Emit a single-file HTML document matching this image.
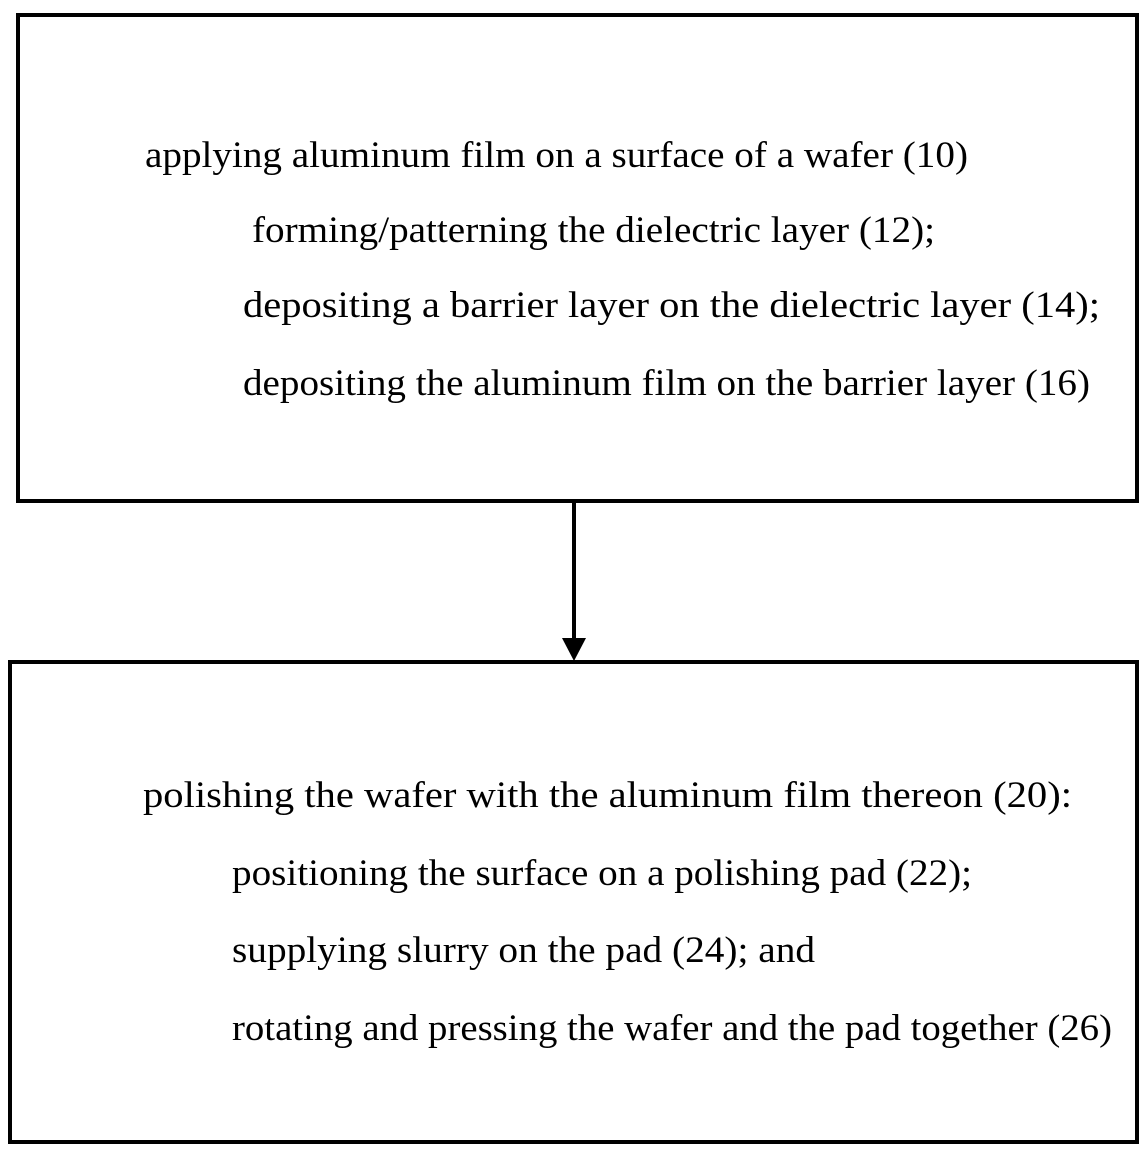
<!DOCTYPE html>
<html><head><style>html,body{margin:0;padding:0;background:#fff;}svg{display:block}</style></head>
<body>
<svg width="1140" height="1150" viewBox="0 0 1140 1150" xmlns="http://www.w3.org/2000/svg">
<rect x="0" y="0" width="1140" height="1150" fill="#fff"/>
<g fill="none" stroke="#000" stroke-width="4">
<rect x="18" y="15" width="1119" height="486"/>
<rect x="10" y="662" width="1127" height="480"/>
<line x1="574" y1="501" x2="574" y2="642"/>
</g>
<polygon points="562,638 586,638 574,661" fill="#000"/>
<g font-family="Liberation Serif, serif" font-size="37" fill="#000">
<text x="145" y="167" textLength="823" lengthAdjust="spacingAndGlyphs">applying aluminum film on a surface of a wafer (10)</text>
<text x="252" y="242" textLength="683" lengthAdjust="spacingAndGlyphs">forming/patterning the dielectric layer (12);</text>
<text x="243" y="317" textLength="857" lengthAdjust="spacingAndGlyphs">depositing a barrier layer on the dielectric layer (14);</text>
<text x="243" y="395" textLength="847" lengthAdjust="spacingAndGlyphs">depositing the aluminum film on the barrier layer (16)</text>
<text x="143" y="807" textLength="929" lengthAdjust="spacingAndGlyphs">polishing the wafer with the aluminum film thereon (20):</text>
<text x="232" y="885" textLength="740" lengthAdjust="spacingAndGlyphs">positioning the surface on a polishing pad (22);</text>
<text x="232" y="962" textLength="583" lengthAdjust="spacingAndGlyphs">supplying slurry on the pad (24); and</text>
<text x="232" y="1040" textLength="880" lengthAdjust="spacingAndGlyphs">rotating and pressing the wafer and the pad together (26)</text>
</g>
</svg>
</body></html>
